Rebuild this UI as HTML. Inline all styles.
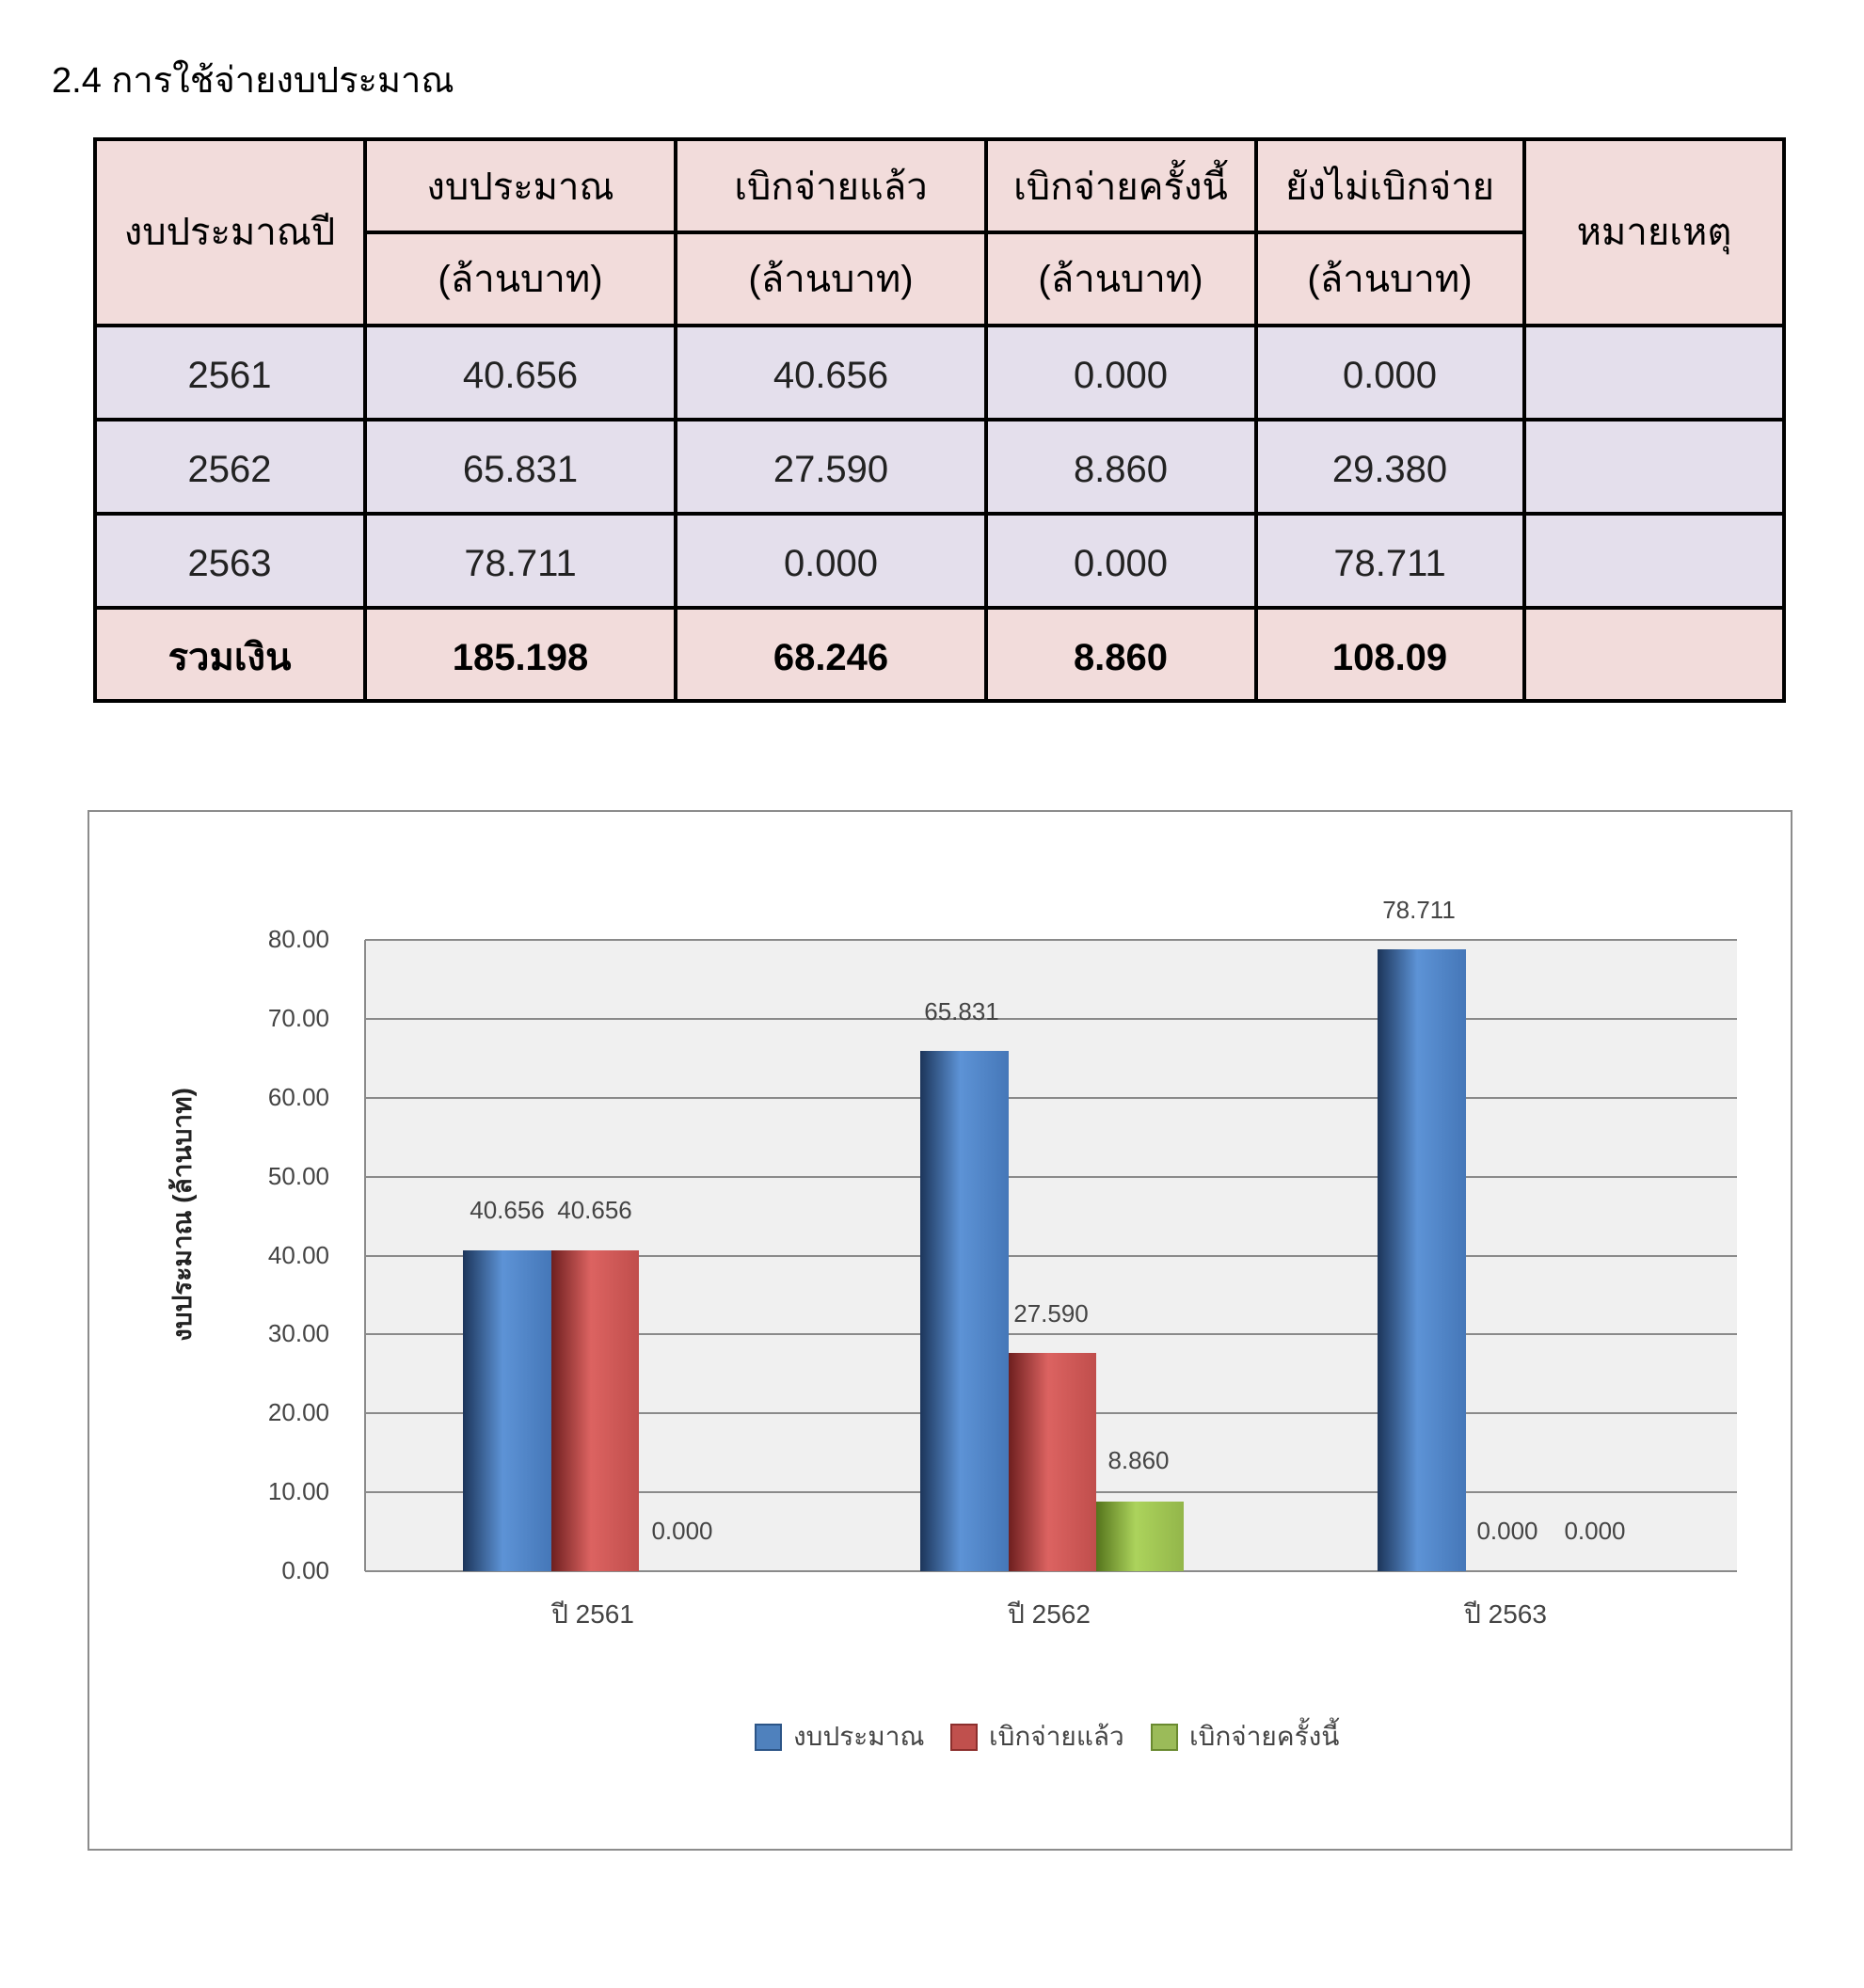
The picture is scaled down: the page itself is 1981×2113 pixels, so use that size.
<!DOCTYPE html>
<html><head><meta charset="utf-8"><style>
html,body{margin:0;padding:0;background:#fff;}
svg{display:block;}
text{font-family:"Liberation Sans","DejaVu Sans",sans-serif;}
</style></head><body>
<svg width="1981" height="2113" viewBox="0 0 1981 2113" xmlns="http://www.w3.org/2000/svg">
<defs>
<linearGradient id="gb" x1="0" x2="1" y1="0" y2="0"><stop offset="0" stop-color="#1c355a"/><stop offset="0.45" stop-color="#5d93d6"/><stop offset="1" stop-color="#4577b8"/></linearGradient>
<linearGradient id="gr" x1="0" x2="1" y1="0" y2="0"><stop offset="0" stop-color="#6e1f1f"/><stop offset="0.45" stop-color="#dc6361"/><stop offset="1" stop-color="#c04e4c"/></linearGradient>
<linearGradient id="gg" x1="0" x2="1" y1="0" y2="0"><stop offset="0" stop-color="#55741c"/><stop offset="0.45" stop-color="#acd35c"/><stop offset="1" stop-color="#93b64a"/></linearGradient>
</defs>
<text x="55" y="98" font-size="38" fill="#000">2.4  การใช้จ่ายงบประมาณ</text>
<!-- table -->
<rect x="101" y="148" width="1795" height="198" fill="#f2dcdb"/>
<rect x="101" y="346" width="1795" height="300" fill="#e4dfec"/>
<rect x="101" y="646" width="1795" height="99" fill="#f2dcdb"/>
<g stroke="#000" stroke-width="4" fill="none">
<rect x="101" y="148" width="1795" height="597"/>
<line x1="388" y1="247" x2="1620" y2="247"/>
<line x1="101" y1="346" x2="1896" y2="346"/>
<line x1="101" y1="446" x2="1896" y2="446"/>
<line x1="101" y1="546" x2="1896" y2="546"/>
<line x1="101" y1="646" x2="1896" y2="646"/>
<line x1="388" y1="148" x2="388" y2="745"/>
<line x1="718" y1="148" x2="718" y2="745"/>
<line x1="1048" y1="148" x2="1048" y2="745"/>
<line x1="1335" y1="148" x2="1335" y2="745"/>
<line x1="1620" y1="148" x2="1620" y2="745"/>
</g>
<g font-size="40" text-anchor="middle" fill="#000">
<text x="244" y="260">งบประมาณปี</text>
<text x="553" y="212">งบประมาณ</text><text x="553" y="310">(ล้านบาท)</text>
<text x="883" y="212">เบิกจ่ายแล้ว</text><text x="883" y="310">(ล้านบาท)</text>
<text x="1191" y="212">เบิกจ่ายครั้งนี้</text><text x="1191" y="310">(ล้านบาท)</text>
<text x="1477" y="212">ยังไม่เบิกจ่าย</text><text x="1477" y="310">(ล้านบาท)</text>
<text x="1758" y="260">หมายเหตุ</text>
</g>
<g font-size="40" text-anchor="middle" fill="#222">
<text x="244" y="412">2561</text><text x="553" y="412">40.656</text><text x="883" y="412">40.656</text><text x="1191" y="412">0.000</text><text x="1477" y="412">0.000</text>
<text x="244" y="512">2562</text><text x="553" y="512">65.831</text><text x="883" y="512">27.590</text><text x="1191" y="512">8.860</text><text x="1477" y="512">29.380</text>
<text x="244" y="612">2563</text><text x="553" y="612">78.711</text><text x="883" y="612">0.000</text><text x="1191" y="612">0.000</text><text x="1477" y="612">78.711</text>
</g>
<g font-size="40" text-anchor="middle" fill="#000" font-weight="bold">
<text x="244" y="712">รวมเงิน</text><text x="553" y="712">185.198</text><text x="883" y="712">68.246</text><text x="1191" y="712">8.860</text><text x="1477" y="712">108.09</text>
</g>
<!-- chart -->
<rect x="94" y="862" width="1810" height="1104" fill="#fff" stroke="#8c8c8c" stroke-width="2"/>
<rect x="388" y="999" width="1458" height="671" fill="#f0f0f0"/>
<g stroke="#8a8a8a" stroke-width="2">
<line x1="388" y1="999" x2="1846" y2="999"/><line x1="388" y1="1083" x2="1846" y2="1083"/>
<line x1="388" y1="1167" x2="1846" y2="1167"/><line x1="388" y1="1251" x2="1846" y2="1251"/>
<line x1="388" y1="1335" x2="1846" y2="1335"/><line x1="388" y1="1418" x2="1846" y2="1418"/>
<line x1="388" y1="1502" x2="1846" y2="1502"/><line x1="388" y1="1586" x2="1846" y2="1586"/>
<line x1="388" y1="1670" x2="1846" y2="1670"/><line x1="388" y1="999" x2="388" y2="1670"/>
</g>
<g font-size="26" text-anchor="end" fill="#444">
<text x="350" y="1007">80.00</text><text x="350" y="1091">70.00</text><text x="350" y="1175">60.00</text>
<text x="350" y="1259">50.00</text><text x="350" y="1343">40.00</text><text x="350" y="1426">30.00</text>
<text x="350" y="1510">20.00</text><text x="350" y="1594">10.00</text><text x="350" y="1678">0.00</text>
</g>
<text transform="translate(203,1291) rotate(-90)" font-size="28" font-weight="bold" text-anchor="middle" fill="#222">งบประมาณ (ล้านบาท)</text>
<!-- bars -->
<rect x="492" y="1329" width="94" height="341" fill="url(#gb)"/>
<rect x="586" y="1329" width="93" height="341" fill="url(#gr)"/>
<rect x="978" y="1117" width="94" height="553" fill="url(#gb)"/>
<rect x="1072" y="1438" width="93" height="232" fill="url(#gr)"/>
<rect x="1165" y="1596" width="93" height="74" fill="url(#gg)"/>
<rect x="1464" y="1009" width="94" height="661" fill="url(#gb)"/>
<g font-size="26" text-anchor="middle" fill="#444">
<text x="539" y="1295">40.656</text><text x="632" y="1295">40.656</text><text x="725" y="1636">0.000</text>
<text x="1022" y="1084">65.831</text><text x="1117" y="1405">27.590</text><text x="1210" y="1561">8.860</text>
<text x="1508" y="976">78.711</text><text x="1602" y="1636">0.000</text><text x="1695" y="1636">0.000</text>
</g>
<g font-size="28" text-anchor="middle" fill="#444">
<text x="630" y="1725">ปี 2561</text><text x="1115" y="1725">ปี 2562</text><text x="1600" y="1725">ปี 2563</text>
</g>
<rect x="803" y="1833" width="27" height="27" fill="#4f81bd" stroke="#2c5587" stroke-width="2"/>
<rect x="1011" y="1833" width="27" height="27" fill="#c0504d" stroke="#8c2f2d" stroke-width="2"/>
<rect x="1224" y="1833" width="27" height="27" fill="#9bbb59" stroke="#6a8a30" stroke-width="2"/>
<g font-size="28" fill="#444">
<text x="843" y="1855">งบประมาณ</text><text x="1051" y="1855">เบิกจ่ายแล้ว</text><text x="1264" y="1855">เบิกจ่ายครั้งนี้</text>
</g>
</svg>
</body></html>
